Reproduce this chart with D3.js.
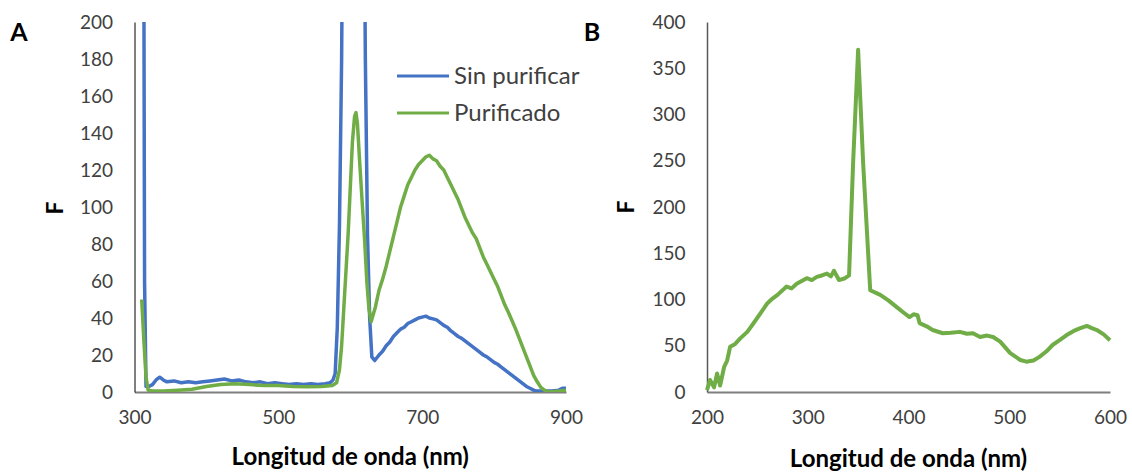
<!DOCTYPE html>
<html>
<head>
<meta charset="utf-8">
<script src="https://cdn.jsdelivr.net/npm/d3@7"></script>
<style>
  body { margin: 0; background: #fff; }
  svg { font-family: Lato, "Open Sans", sans-serif; }
</style>
</head>
<body>
<div id="area"></div>
<script>

// Panel A - longitudes de onda y fluorescencia
let onda_sin = [310, 312, 314, 316, 320, 325, 330, 335, 340, 345, 355, 365, 375, 385, 395, 405, 415, 425, 435, 445, 455, 465, 475, 485, 495, 505, 515, 525, 535, 545, 555, 565, 572, 576, 579, 582, 585, 588, 592, 600, 610, 617, 621, 624, 627, 630, 634, 640, 645, 650, 655, 660, 665, 670, 675, 680, 685, 690, 695, 700, 705, 710, 715, 720, 725, 730, 735, 740, 745, 750, 755, 760, 765, 770, 775, 780, 785, 790, 795, 800, 805, 810, 815, 820, 825, 830, 835, 840, 845, 850, 855, 860, 870, 880, 890, 895, 900]
let f_sin = [900, 400, 60, 3, 3, 4, 6.5, 8, 6.5, 5.5, 6, 5, 5.5, 5, 5.5, 6, 6.5, 7, 6, 6.5, 5.5, 5, 5.5, 4.5, 5, 4.5, 4, 4.5, 4, 4.5, 4, 4.5, 5, 6.5, 10, 35, 90, 180, 400, 900, 900, 400, 180, 85, 40, 19, 17, 20, 22, 25, 27, 30, 32, 34, 35, 37, 38, 39, 40, 40.5, 41, 40, 39.5, 39, 37.5, 36, 35, 33, 31.5, 30, 29, 27.5, 26, 24.5, 23, 21.5, 20, 19, 17.5, 16, 15, 13.5, 12, 10.5, 9, 7.5, 6, 4.5, 3, 2, 1, 0.5, 0.5, 0.5, 1, 2, 2]

let onda_pur = [310, 313, 316, 319, 325, 340, 360, 380, 400, 420, 440, 460, 480, 500, 520, 540, 560, 575, 581, 585, 588, 591, 594, 597, 600, 603, 606, 608, 610, 613, 617, 620, 623, 626, 629, 635, 640, 645, 650, 655, 660, 665, 670, 675, 680, 685, 690, 695, 700, 705, 710, 715, 720, 725, 730, 735, 740, 745, 750, 755, 760, 765, 770, 775, 780, 785, 790, 795, 800, 805, 810, 815, 820, 825, 830, 835, 840, 845, 850, 855, 860, 865, 870, 876, 890, 900]
let f_pur = [50, 28, 8, 1, 0.5, 0.5, 1, 1.5, 3, 4, 4.5, 4, 3.5, 3.5, 3, 2.8, 3, 3.5, 5, 12, 25, 45, 65, 85, 110, 135, 149, 151, 145, 125, 100, 82, 60, 45, 38, 46, 55, 61, 68, 76, 84, 92, 100, 106, 112, 116, 120, 123, 125, 127, 128, 126, 125, 122, 120, 116, 112, 108, 104, 99, 94, 90, 86, 83, 78, 73, 69, 65, 61, 57, 52, 47, 43, 38.5, 34, 29, 24, 19, 14, 9, 5.5, 2.5, 1, 0, 0.5, 1]

// Panel B
let onda_b = [200, 203, 207, 210, 213, 217, 220, 223, 228, 233, 240, 246, 253, 260, 265, 270, 279, 284, 289, 294, 299, 304, 309, 314, 319, 323, 326, 331, 337, 341, 345, 350, 355, 362, 372, 380, 388, 395, 401, 405, 409, 411, 418, 424, 434, 442, 451, 458, 464, 471, 478, 484, 491, 501, 511, 517, 524, 530, 537, 543, 550, 557, 564, 570, 577, 582, 587, 594, 600]
let f_b = [2, 13, 5, 20, 7, 27, 34, 49, 52, 58, 65, 74, 85, 96, 101, 105, 114, 112, 117, 120, 123, 121, 124.5, 126, 128, 125, 131, 121, 123, 126, 247, 370, 247, 110, 105, 99, 92, 86, 81, 84, 83, 74.5, 71, 67, 63.5, 64, 65, 63, 63.5, 59.5, 61, 59.5, 54.4, 42, 34.6, 32.8, 34, 38, 44, 50.8, 56, 61.6, 66, 68.8, 71.4, 69, 67, 62, 56]

let ticks_xa = [300, 500, 700, 900]
let ticks_ya = d3.range(0, 201, 20)
let ticks_xb = [200, 300, 400, 500, 600]
let ticks_yb = d3.range(0, 401, 50)

let series_a = [
    { nombre: 'Sin purificar', onda: onda_sin, f: f_sin, color: '#4472C4' },
    { nombre: 'Purificado', onda: onda_pur, f: f_pur, color: '#70AD47' }
]

let svg = d3.select('#area').append('svg')
    .attr('width', 1132)
    .attr('height', 473)

// Escalas
let xa = d3.scaleLinear().domain([300, 900]).range([134.5, 566])
let ya = d3.scaleLinear().domain([0, 200]).range([392, 22])
let xb = d3.scaleLinear().domain([200, 600]).range([707, 1110])
let yb = d3.scaleLinear().domain([0, 400]).range([392, 22])

svg.append('clipPath').attr('id', 'clipA')
    .append('rect')
    .attr('x', xa(300)).attr('y', ya(200))
    .attr('width', xa(900) - xa(300)).attr('height', ya(0) - ya(200))

function ejes(x, y, tx, ty, yColor, yWidth) {
    let gx = svg.append('g')
        .attr('transform', `translate(0, ${y.range()[0]})`)
        .call(d3.axisBottom(x).tickValues(tx).tickSize(0).tickPadding(19))
    gx.select('.domain').attr('stroke', '#7f7f7f').attr('stroke-width', 2)

    let gy = svg.append('g')
        .attr('transform', `translate(${x.range()[0]}, 0)`)
        .call(d3.axisLeft(y).tickValues(ty).tickSize(0).tickPadding(21.5))
    gy.select('.domain').attr('stroke', yColor).attr('stroke-width', yWidth)

    svg.selectAll('.tick text')
        .attr('font-size', 19)
        .attr('font-family', 'Lato, sans-serif')
        .attr('fill', '#404040')
}

ejes(xa, ya, ticks_xa, ticks_ya, '#000', 1)
ejes(xb, yb, ticks_xb, ticks_yb, '#595959', 1.5)

// Lineas panel A
let lineaA = d3.line()
    .x(d => xa(d[0]))
    .y(d => ya(d[1]))

series_a.forEach(s => {
    svg.append('path')
        .datum(d3.zip(s.onda, s.f))
        .attr('clip-path', 'url(#clipA)')
        .attr('d', lineaA)
        .attr('fill', 'none')
        .attr('stroke', s.color)
        .attr('stroke-width', 3.5)
        .attr('stroke-linejoin', 'round')
})

// Linea panel B
let lineaB = d3.line()
    .x(d => xb(d[0]))
    .y(d => yb(d[1]))

svg.append('path')
    .datum(d3.zip(onda_b, f_b))
    .attr('d', lineaB)
    .attr('fill', 'none')
    .attr('stroke', '#70AD47')
    .attr('stroke-width', 4)
    .attr('stroke-linejoin', 'round')

// Leyenda
let leyenda = svg.append('g')
series_a.forEach((s, i) => {
    let yy = 76 + i * 37
    leyenda.append('line')
        .attr('x1', 397).attr('x2', 449)
        .attr('y1', yy).attr('y2', yy)
        .attr('stroke', s.color).attr('stroke-width', 3.2)
    leyenda.append('text')
        .attr('x', 454).attr('y', yy)
        .attr('dy', '0.35em')
        .attr('font-size', 24)
        .attr('fill', '#404040')
        .text(s.nombre)
})

// Titulos
svg.append('text').attr('x', 19).attr('y', 32).attr('dy', '0.36em')
    .attr('text-anchor', 'middle').attr('font-size', 25).attr('font-weight', 'bold')
    .text('A')
svg.append('text').attr('x', 592).attr('y', 32).attr('dy', '0.36em')
    .attr('text-anchor', 'middle').attr('font-size', 25).attr('font-weight', 'bold')
    .text('B')

svg.append('text')
    .attr('transform', `translate(${(xa(300) + xa(900)) / 2}, 456)`)
    .attr('dy', '0.36em')
    .style('text-anchor', 'middle')
    .attr('font-size', 24).attr('font-weight', 'bold')
    .text('Longitud de onda (nm)')

svg.append('text')
    .attr('transform', `translate(${(xb(200) + xb(600)) / 2}, 458)`)
    .attr('dy', '0.36em')
    .style('text-anchor', 'middle')
    .attr('font-size', 24).attr('font-weight', 'bold')
    .text('Longitud de onda (nm)')

svg.append('text')
    .attr('transform', 'translate(55, 208) rotate(-90)')
    .attr('dy', '0.36em')
    .style('text-anchor', 'middle')
    .attr('font-size', 23).attr('font-weight', 'bold')
    .text('F')

svg.append('text')
    .attr('transform', 'translate(626, 207) rotate(-90)')
    .attr('dy', '0.36em')
    .style('text-anchor', 'middle')
    .attr('font-size', 23).attr('font-weight', 'bold')
    .text('F')

</script>
</body>
</html>
